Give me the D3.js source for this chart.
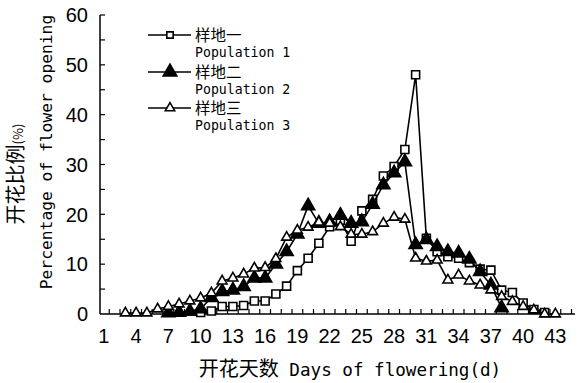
<!DOCTYPE html>
<html><head><meta charset="utf-8">
<script src="https://cdn.jsdelivr.net/npm/d3@7"></script>
<style>body{margin:0;background:#fff}svg{display:block}</style>
</head><body>
<svg id="c" width="581" height="383"></svg>
<script>
const seriesNames = ["样地一", "样地二", "样地三"];
const seriesNamesEn = ["Population 1", "Population 2", "Population 3"];
const days1 = d3.range(10, 43);
const pop1 = [0.3, 0.6, 1.5, 1.5, 1.7, 2.6, 2.6, 4.0, 5.6, 8.7, 11.2, 14.2, 17.5, 18.8, 14.6, 20.7, 23.0, 27.7, 29.6, 33.0, 48.0, 15.2, 12.5, 11.5, 11.2, 10.3, 9.0, 8.8, 4.8, 4.3, 2.2, 0.9, 0.3];
const days2 = d3.range(7, 39);
const pop2 = [0.2, 0.3, 0.5, 1.0, 3.3, 4.5, 4.8, 5.5, 7.2, 7.2, 10.0, 12.5, 16.0, 21.7, 18.2, 18.5, 19.8, 18.2, 18.5, 22.0, 25.9, 28.3, 30.5, 13.9, 14.9, 13.5, 12.5, 12.2, 11.0, 8.5, 5.8, 1.2];
const days3 = d3.range(3, 44);
const pop3 = [0.2, 0.2, 0.2, 1.0, 1.5, 2.0, 2.6, 3.2, 4.2, 6.6, 7.2, 8.0, 9.2, 9.3, 11.1, 15.4, 16.8, 17.4, 18.4, 18.2, 17.5, 16.0, 16.0, 16.5, 18.2, 19.4, 19.0, 11.2, 10.6, 10.8, 6.8, 7.8, 6.6, 5.8, 4.8, 3.5, 2.5, 1.5, 0.8, 0.0, 0.0];
const xTickLabels = d3.range(1, 44, 3);
const yTicks = [0, 10, 20, 30, 40, 50, 60];

const svg = d3.select("#c");
const x = d3.scaleLinear().domain([0.5, 44.5]).range([98.5, 571.5]);
const y = d3.scaleLinear().domain([0, 60]).range([314, 15]);
const numFont = "'Liberation Sans', Arial, sans-serif";
const monoFont = "'DejaVu Sans Mono', monospace";
const cjkFont = "'Noto Sans CJK SC', sans-serif";

// axes lines
svg.append("line").attr("x1", 100).attr("x2", 100).attr("y1", y(60)).attr("y2", y(0)).attr("stroke", "#000").attr("stroke-width", 1.5);
svg.append("line").attr("x1", 100).attr("x2", 575).attr("y1", y(0)).attr("y2", y(0)).attr("stroke", "#000").attr("stroke-width", 1.5);
// y ticks every 5, inward
svg.append("g").selectAll("line").data(d3.range(5, 61, 5)).join("line")
  .attr("x1", 100).attr("x2", 105).attr("y1", d => y(d)).attr("y2", d => y(d))
  .attr("stroke", "#000").attr("stroke-width", 1.2);
svg.append("g").selectAll("text").data(yTicks).join("text")
  .attr("x", 88).attr("y", d => y(d)).attr("dy", "0.36em").attr("text-anchor", "end")
  .attr("font-family", numFont).attr("font-size", 20).text(d => d);
// x ticks at category boundaries
svg.append("g").selectAll("line").data(d3.range(1.5, 45, 1)).join("line")
  .attr("x1", d => x(d)).attr("x2", d => x(d)).attr("y1", y(0)).attr("y2", y(0) - 5)
  .attr("stroke", "#000").attr("stroke-width", 1.2);
svg.append("g").selectAll("text").data(xTickLabels).join("text")
  .attr("x", d => x(d)).attr("y", 343).attr("text-anchor", "middle")
  .attr("font-family", numFont).attr("font-size", 20).text(d => d);

// axis titles
const xt = svg.append("text").attr("x", 350).attr("y", 376).attr("text-anchor", "middle");
xt.append("tspan").attr("font-family", cjkFont).attr("font-size", 20).text("开花天数");
xt.append("tspan").attr("font-family", monoFont).attr("font-size", 17.6).text(" Days of flowering(d)");

const yt1 = svg.append("text").attr("transform", "translate(23,174) rotate(-90)").attr("text-anchor", "middle");
yt1.append("tspan").attr("font-family", cjkFont).attr("font-size", 20).text("开花比例");
yt1.append("tspan").attr("font-family", cjkFont).attr("font-size", 13).text("(%)");
svg.append("text").attr("transform", "translate(52,152) rotate(-90)").attr("text-anchor", "middle")
  .attr("font-family", monoFont).attr("font-size", 16.3).text("Percentage of flower opening");

// series
const line = d3.line().x(d => x(d[0])).y(d => y(d[1]));
const sq = d3.symbol().type(d3.symbolSquare).size(64);
const triBig = d3.symbol().type(d3.symbolTriangle).size(75);
const triSmall = d3.symbol().type(d3.symbolTriangle).size(42);
const series = [
  {days: days1, vals: pop1, sym: sq, fill: "#fff"},
  {days: days2, vals: pop2, sym: triBig, fill: "#000"},
  {days: days3, vals: pop3, sym: triSmall, fill: "#fff"}
];
series.forEach(s => {
  const pts = s.days.map((d, i) => [d, s.vals[i]]);
  const g = svg.append("g");
  g.append("path").attr("d", line(pts)).attr("fill", "none").attr("stroke", "#000").attr("stroke-width", 1.6);
  g.selectAll("path.m").data(pts).join("path").attr("class", "m")
    .attr("transform", d => `translate(${x(d[0])},${y(d[1])})`)
    .attr("d", s.sym()).attr("fill", s.fill).attr("stroke", "#000").attr("stroke-width", 1.6);
});

// legend
const legY = [35, 72, 108];
const legSyms = [d3.symbol().type(d3.symbolSquare).size(40), d3.symbol().type(d3.symbolTriangle).size(80), d3.symbol().type(d3.symbolTriangle).size(38)];
const legFills = ["#fff", "#000", "#fff"];
legY.forEach((ly, i) => {
  svg.append("line").attr("x1", 148).attr("x2", 191).attr("y1", ly).attr("y2", ly).attr("stroke", "#000").attr("stroke-width", 1.6);
  svg.append("path").attr("transform", `translate(170,${ly})`).attr("d", legSyms[i]()).attr("fill", legFills[i]).attr("stroke", "#000").attr("stroke-width", 1.6);
  svg.append("text").attr("x", 195).attr("y", ly).attr("dy", "0.36em").attr("font-family", cjkFont).attr("font-size", 15.5).text(seriesNames[i]);
  svg.append("text").attr("x", 195).attr("y", ly + 17).attr("dy", "0.36em").attr("font-family", monoFont).attr("font-size", 13.2).text(seriesNamesEn[i]);
});
</script>
</body></html>
